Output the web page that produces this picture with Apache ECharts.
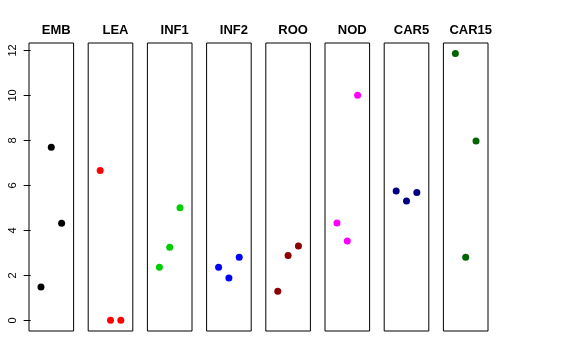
<!DOCTYPE html>
<html><head><meta charset="utf-8">
<script src="https://cdn.jsdelivr.net/npm/echarts@6/dist/echarts.min.js"></script>
<style>html,body{margin:0;padding:0;background:#fff}#c{width:576px;height:360px}</style>
</head><body><div id="c"></div>
<script>
const categories = ['EMB','LEA','INF1','INF2','ROO','NOD','CAR5','CAR15'];
const colors = ['#000000','#FF0000','#00CD00','#0000FF','#8B0000','#FF00FF','#000080','#006400'];
const replicates = [1, 2, 3];
const EMB = [1.48, 7.70, 4.32];
const LEA = [6.66, 0.0, 0.0];
const INF1 = [2.36, 3.25, 5.00];
const INF2 = [2.36, 1.88, 2.80];
const ROO = [1.29, 2.88, 3.31];
const NOD = [4.33, 3.53, 10.01];
const CAR5 = [5.75, 5.31, 5.68];
const CAR15 = [11.86, 2.80, 7.97];
const yTicks = [0, 2, 4, 6, 8, 10, 12];
const seriesValues = [EMB, LEA, INF1, INF2, ROO, NOD, CAR5, CAR15];

const chart = echarts.init(document.getElementById('c'));
const font = 'Liberation Sans, Arial, Helvetica, sans-serif';
const gLeft0 = 29, gPitch = 59.2, gW = 44.6, gTop = 43, gH = 288;
const yMin = -0.474, yMax = 12.33;
const grid = [], xAxis = [], yAxis = [], series = [], title = [];
categories.forEach((cat, i) => {
  const l = gLeft0 + i * gPitch;
  grid.push({left: l, top: gTop, width: gW, height: gH, show: true, borderColor: '#000', borderWidth: 1, backgroundColor: 'transparent'});
  xAxis.push({gridIndex: i, type: 'value', min: -0.16, max: 4.16, show: false});
  yAxis.push({gridIndex: i, type: 'value', min: yMin, max: yMax, show: i === 0,
    splitLine: {show: false},
    axisLine: {show: false},
    axisTick: {show: i === 0, inside: false, length: 7, lineStyle: {color: '#000'}, customValues: yTicks},
    axisLabel: {show: i === 0, rotate: 90, margin: 11, color: '#000', fontSize: 11, fontFamily: font, customValues: yTicks}
  });
  series.push({type: 'scatter', xAxisIndex: i, yAxisIndex: i, symbol: 'circle', symbolSize: 7,
    itemStyle: {color: colors[i], opacity: 1}, silent: true,
    data: replicates.map((r, k) => [r, seriesValues[i][k]])});
  title.push({text: cat, left: l + gW / 2, top: 19, textAlign: 'center',
    textStyle: {fontSize: 13, fontWeight: 'bold', color: '#000', fontFamily: font}});
});
chart.setOption({animation: false, title, grid, xAxis, yAxis, series});
</script></body></html>
